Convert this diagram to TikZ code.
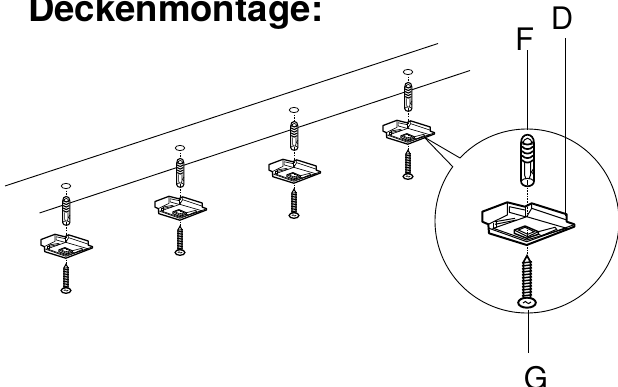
\documentclass[tikz,border=0pt]{standalone}
\usepackage{fontspec}
\setmainfont{TeX Gyre Heros}
\tikzset{
	lensline/.style = {line width=.9pt},
	leader/.style = {line width=1pt},
	axisline/.style = {dash pattern=on 1.5pt off 1.2pt, line width=.7pt},
	ringline/.style = {line width=.8pt},
	callout/.style = {font=\fontsize{31}{31}\selectfont, inner sep=0pt},
	fixing/.pic = {
		%axis
		\draw[axisline] (0,-40) -- (0,31);
		%plug
		\draw[fill=white, line width=1.3\pgflinewidth] (-6,-82) .. controls (-6,-93) and (7,-93) .. (7,-82) -- (7,-44) .. controls (7,-37) and (-6,-37) .. (-6,-44) -- cycle;
		\draw (-4,-80) .. controls (-4,-89) and (5,-89) .. (5,-80);
		\foreach \ribY in {-83,-78.5,-74,-69.5,-65}
			\draw[line width=1.3\pgflinewidth] (-5,\ribY) .. controls (-2,\ribY+3.5) and (3,\ribY+3.5) .. (6,\ribY);
		\draw (-6,-44) .. controls (-3,-47.5) and (4,-47.5) .. (7,-44);
		\draw (-2.5,-62) -- (-2.5,-50) -- (-1,-46);
		\draw (3.5,-62) -- (3.5,-50) -- (2,-46);
		\draw (7,-57) -- (4.5,-53) -- (7,-50);
		\draw (.5,-45) -- (.5,-40);
		%bracket
		\draw[fill=white, line width=1.4\pgflinewidth, line join=round] (-44.7,-13.3) -- (-19.7,-22.7) -- (-2,-18.3) -- (4.7,-21.7) -- (39.7,-10.7) -- (39.7,-3.3) -- (47.3,-.7) -- (47.3,1.7) -- (-.3,20) -- (-38,8.3) -- (-38.7,-.7) -- (-44.7,-3.3) -- cycle;
		\draw (-38.7,-.7) -- (-19.7,-10) -- (-19.7,-22.7);
		\draw (-38,3.3) -- (-.3,16.7) -- (46.3,0);
		\draw (-33.7,3.3) -- (-.3,-8.3) -- (39.7,3.3) -- (-.3,15) -- cycle;
		\draw (4.7,-21.7) -- (4.7,-16.7) -- (39.7,-5);
		\draw (4.7,-16.7) -- (-.3,-8.3);
		\draw (-2,-18.3) -- (-2,-8.3);
		\draw (-17.7,-18.3) -- (-2,-15);
		\draw (-17.7,-18.3) -- (-17.7,-12.7) -- (-2,-8.3);
		\draw (-32,-3.3) -- (-12,-6.7);
		\draw (-32,-.7) -- (-10.3,-5);
		\draw (-33.7,-1.7) -- (-33.7,3.3);
		\draw (-30.3,-3.3) -- (-30.3,3.3);
		\draw[line width=1.2\pgflinewidth, line join=round] (-12.7,5) -- (-2,1) -- (11.3,6.7) -- (11.3,9.3) -- (-.3,13.3) -- (-12.7,8.3) -- cycle;
		\draw (-12.7,5) -- (.7,11.7) -- (11.3,6.7);
		\draw (-8.7,5) -- (-2,2.3) -- (7.3,6.7) -- (.7,9.3) -- cycle;
		\draw (11.3,6.7) -- (28,2.3) -- (29.7,4.3) -- (14.7,10.7) -- (11.3,9.3);
		\draw[axisline] (0,-23) -- (0,-8);
		\draw[axisline] (0,2) -- (0,14);
		%screw
		\draw[fill=white, line width=1.3\pgflinewidth] (0,30.7) -- (-3.5,37) -- (-3.5,73) -- (3.5,73) -- (3.5,37) -- cycle;
		\foreach \threadY in {38,41,44,47,50,53,56,59,62,65,68,71}
			\draw[line width=1.2\pgflinewidth] (-5,\threadY) -- (5,\threadY-1.2);
		\draw[fill=white, line width=1.4\pgflinewidth] (0,77.7) ellipse (8.8 and 5);
		\draw (-4,78) .. controls (-2,76) and (-1,76) .. (0,77.7) .. controls (1,79) and (2,79) .. (4,77);
	}
}

\begin{document}
\begin{tikzpicture}[x=1pt, y=-1pt]
	\useasboundingbox (0,0) rectangle (618,387);

	% Define coordinates.

	%ceiling lines
	\coordinate (backTail) at (5,186);
	\coordinate (backHead) at (438,43.5);
	\coordinate (frontTail) at (39.5,213);
	\coordinate (frontHead) at (470,70.5);

	%magnifier
	\coordinate (wedgeTip) at (424,137);
	\coordinate (wedgeUpper) at (460,158);
	\coordinate (wedgeLower) at (453,167);

	%leader ends
	\coordinate (tipF) at (527,130);
	\coordinate (tipD) at (565,216);
	\coordinate (tipG) at (528.7,310);

	% Draw lines.

	\draw[lensline] (backTail) -- (backHead);
	\draw[lensline] (frontTail) -- (frontHead);

	% Draw magnifier.

	\draw[lensline] (wedgeTip) -- (wedgeUpper);
	\draw[lensline] (wedgeTip) -- (wedgeLower);
	\draw[lensline] plot[domain=223.2:576.1, samples=200] ({527+92*cos(\x)},{221+92*sin(\x)});

	% Draw fixings.

	\draw[ringline] (66,186) ellipse (4.7 and 2.6);
	\draw[ringline] (180,148) ellipse (4.7 and 2.6);
	\draw[ringline] (294,110) ellipse (4.7 and 2.6);
	\draw[ringline] (408,72) ellipse (4.7 and 2.6);

	\draw[axisline] (66,188) -- (66,198);
	\draw[axisline] (180,150) -- (180,160);
	\draw[axisline] (294,112) -- (294,122);
	\draw[axisline] (408,74) -- (408,84);

	\pic[scale=.56, line width=.65pt] at (66,247) {fixing};
	\pic[scale=.56, line width=.65pt] at (180,209) {fixing};
	\pic[scale=.56, line width=.65pt] at (294,172) {fixing};
	\pic[scale=.56, line width=.65pt] at (408,133) {fixing};
	\pic[line width=1pt] at (527,225) {fixing};

	% Labels.

	\node[anchor=base west, inner sep=0pt, font=\fontsize{36.6}{37}\selectfont\bfseries] (title) at (28,21.7) {Deckenmontage:};
	\node[callout] (labelF) at (524.5,39) {F};
	\node[callout] (labelD) at (562,18) {D};
	\node[callout] (labelG) at (536,378) {G};

	\draw[leader] (labelF.south -| tipF) -- (tipF);
	\draw[leader, shorten <=9pt] (labelD.south -| tipD) -- (tipD);
	\draw[leader, shorten <=13pt] (labelG.north -| tipG) -- (tipG);
\end{tikzpicture}
\end{document}
